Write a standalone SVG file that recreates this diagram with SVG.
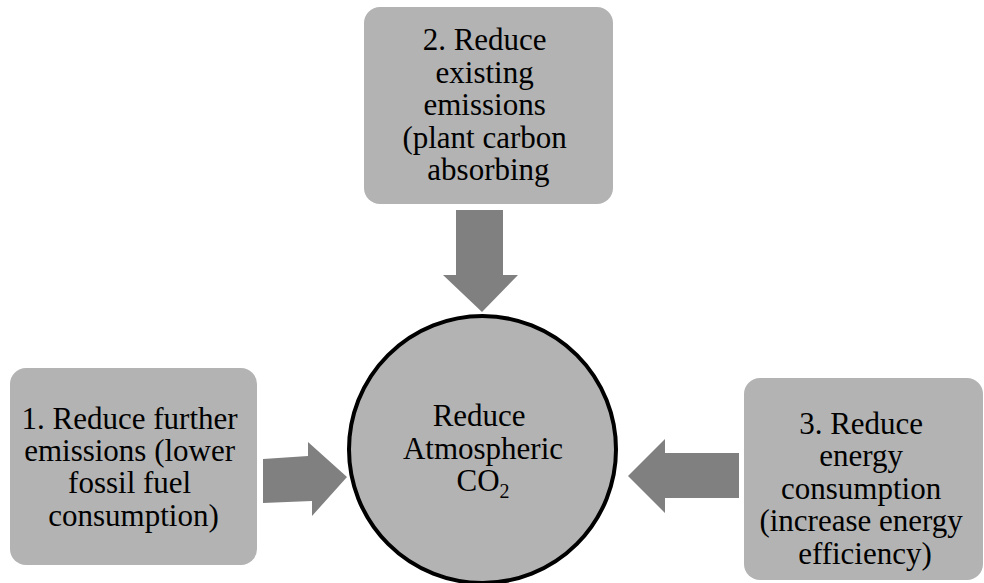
<svg xmlns="http://www.w3.org/2000/svg" width="984" height="583" viewBox="0 0 984 583">
<style>
.box{fill:#b3b3b3;}
.arrow{fill:#808080;}
.hub{fill:#b3b3b3;stroke:#000;stroke-width:4;}
.t{font-family:"Liberation Serif","Times New Roman",serif;font-size:31px;fill:#000;text-anchor:middle;}
</style>
<rect width="984" height="583" fill="#fff"/>
<g id="connectors">
<polygon class="arrow" points="456,210 503,210 503,275 518,275 482,312 443,275 456,275"/>
<polygon class="arrow" points="263,459 308,456 308,442 347,477 312,516 312,501 263,503"/>
<polygon class="arrow" points="739,453 739,498 665,498 665,513 628,476 665,439 665,453"/>
</g>
<g id="node-top">
<rect class="box" x="364" y="7" width="249" height="197" rx="16"/>
<text class="t">
<tspan x="488.5" y="50">2. Reduce</tspan>
<tspan x="488.5" y="82.6">existing</tspan>
<tspan x="488.5" y="115.2">emissions</tspan>
<tspan x="488.5" y="147.8">(plant carbon</tspan>
<tspan x="488.5" y="180.4">absorbing</tspan>
</text>
</g>
<g id="node-left">
<rect class="box" x="10" y="368" width="247" height="197" rx="16"/>
<text class="t">
<tspan x="133.5" y="429">1. Reduce further</tspan>
<tspan x="133.5" y="461.2">emissions (lower</tspan>
<tspan x="133.5" y="493.4">fossil fuel</tspan>
<tspan x="133.5" y="525.6">consumption)</tspan>
</text>
</g>
<g id="node-right">
<rect class="box" x="744" y="378" width="239" height="202" rx="16"/>
<text class="t">
<tspan x="865" y="433.5">3. Reduce</tspan>
<tspan x="865" y="466">energy</tspan>
<tspan x="865" y="498.5">consumption</tspan>
<tspan x="865" y="531">(increase energy</tspan>
<tspan x="865" y="563.5">efficiency)</tspan>
</text>
</g>
<g id="node-center">
<circle class="hub" cx="482.5" cy="449.5" r="133.5"/>
<text class="t">
<tspan x="483" y="426">Reduce</tspan>
<tspan x="483" y="458.5">Atmospheric</tspan>
</text>
<text class="t" x="483" y="491">CO<tspan font-size="20" dy="7">2</tspan></text>
</g>
</svg>
